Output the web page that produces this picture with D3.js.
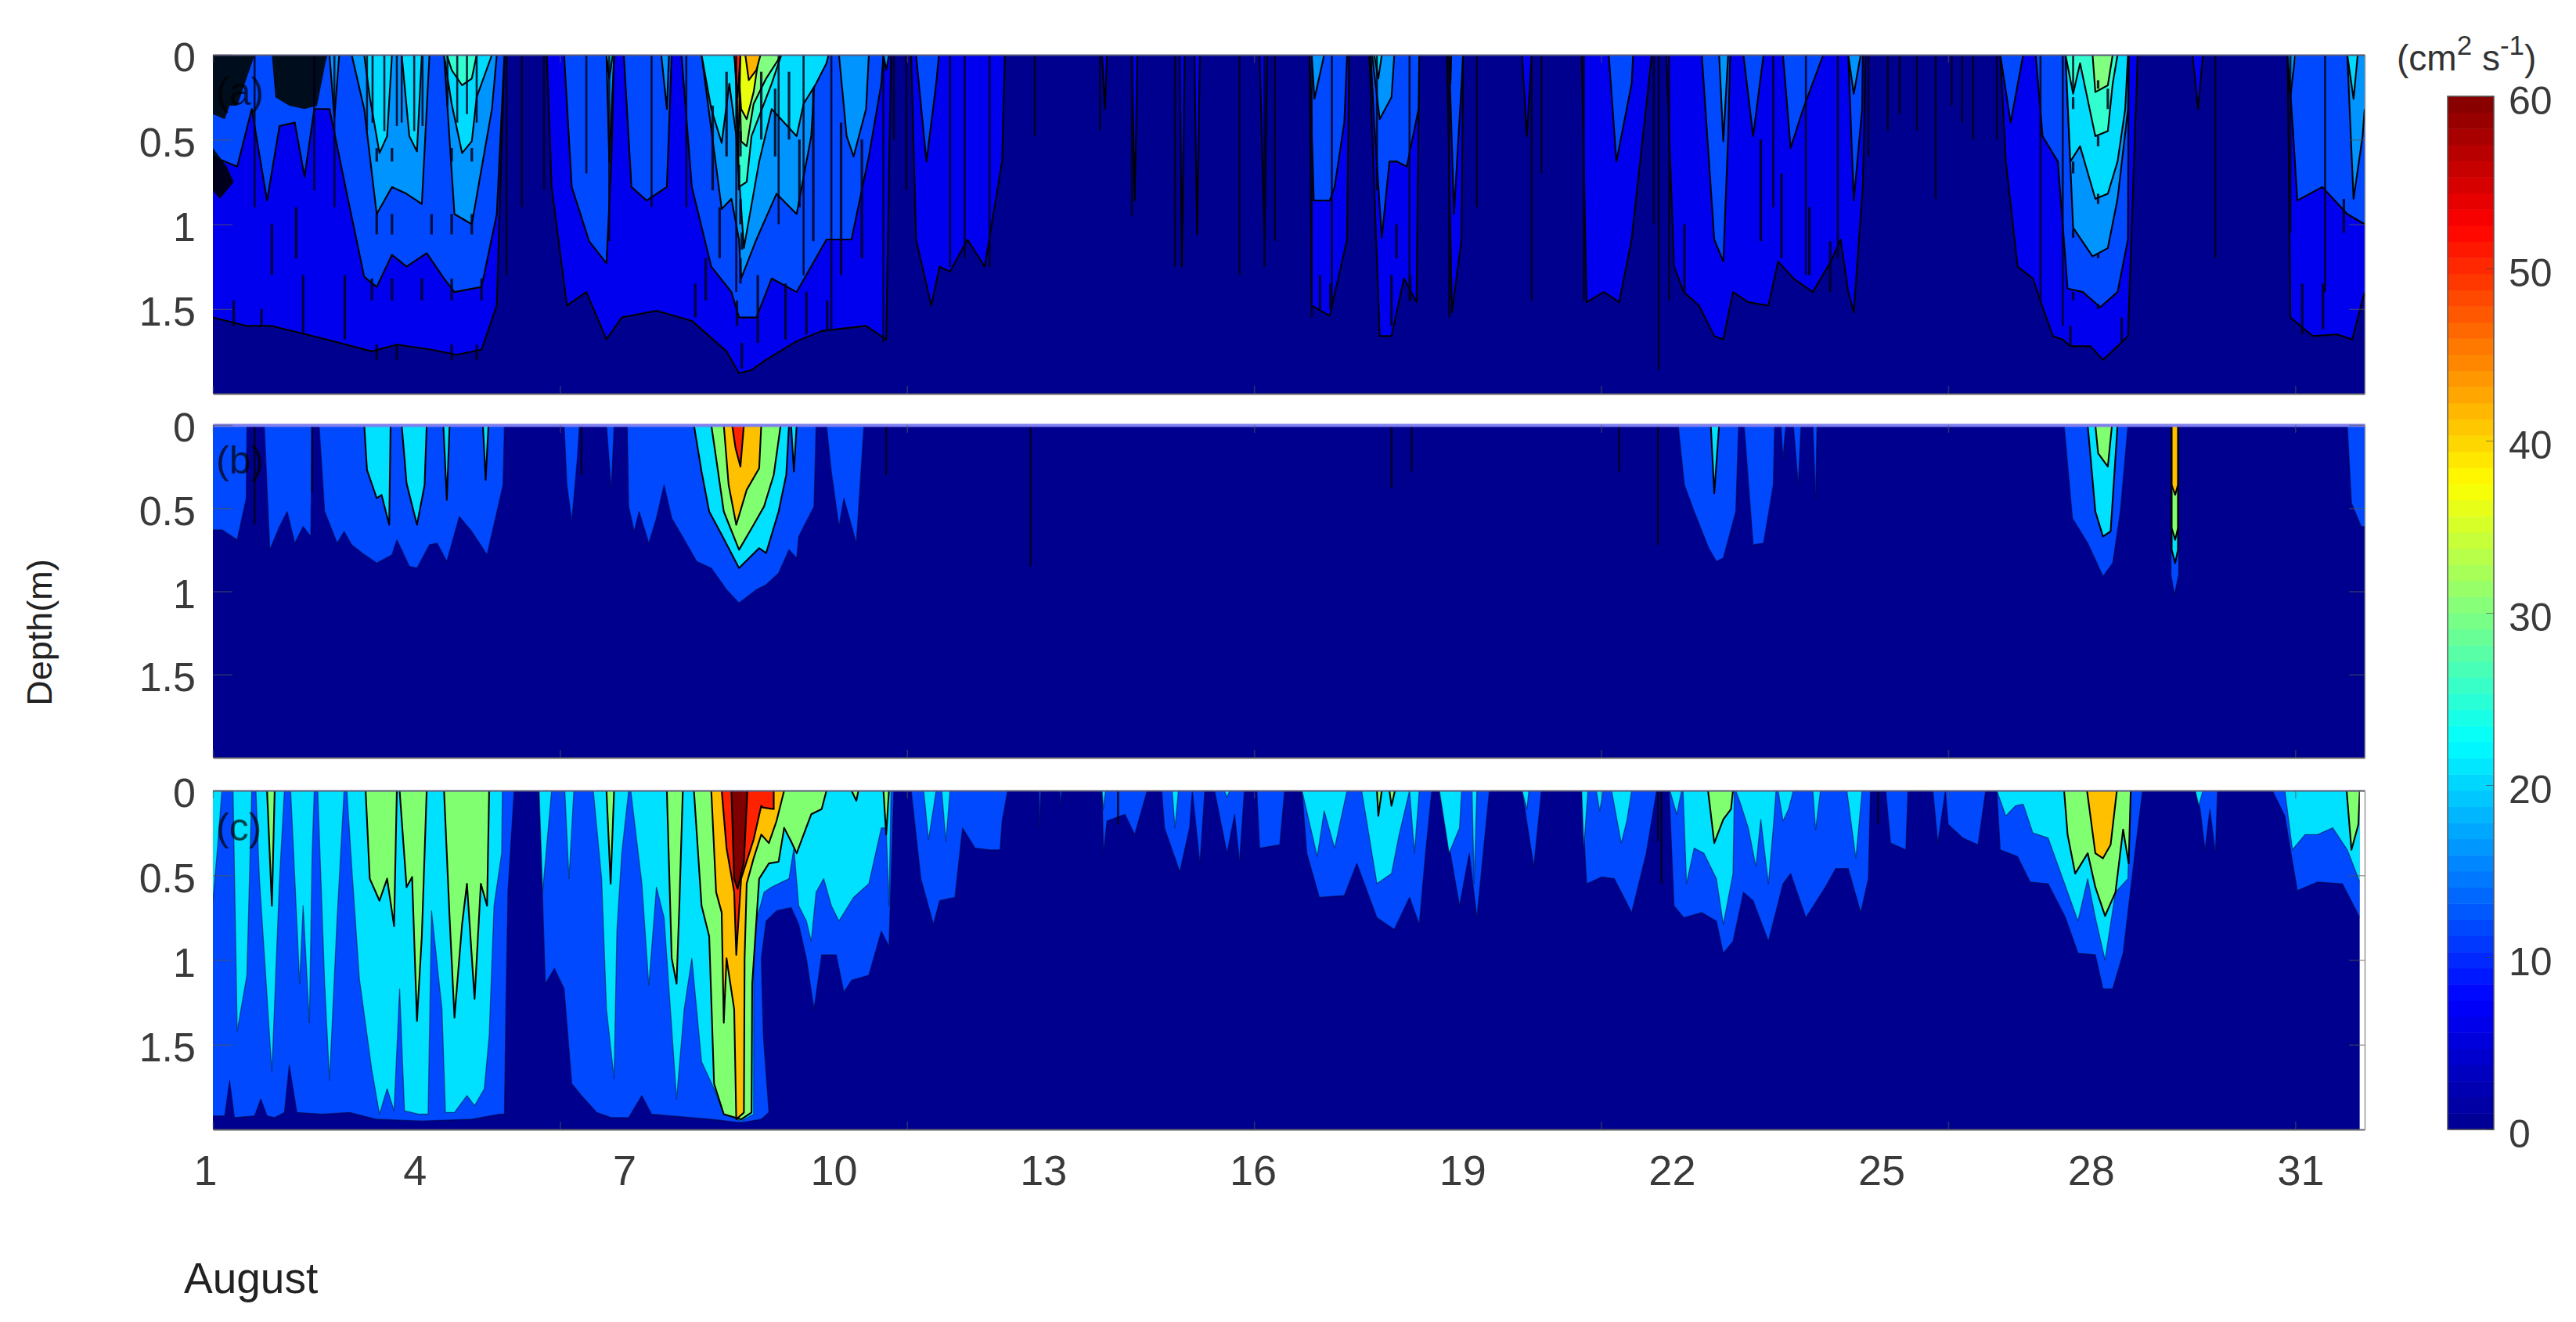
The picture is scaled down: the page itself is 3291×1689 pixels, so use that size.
<!DOCTYPE html>
<html><head><meta charset="utf-8"><script src="https://cdn.jsdelivr.net/npm/d3@7"></script>
<style>html,body{margin:0;background:#fff}svg{display:block}text{font-family:"Liberation Sans",Arial,sans-serif;fill:#3a3a3a}</style></head><body>
<script>
// Each list: [day of August, depth (m)] = how deep the value stays at or above the level.
const a5=[[1,1.55],[1.49,1.6],[1.85,1.6],[2.64,1.68],[3.29,1.75],[3.65,1.71],[4.15,1.74],[4.51,1.77],[4.87,1.74],[5.09,1.48],[5.2,0],[5.81,0],[5.88,.78],[6.1,1.48],[6.38,1.4],[6.67,1.68],[6.89,1.55],[7.39,1.51],[7.9,1.57],[8.4,1.75],[8.58,1.88],[8.76,1.86],[8.97,1.8],[9.41,1.69],[9.77,1.63],[10.41,1.6],[10.7,1.68],[10.77,0],[11.06,0],[11.13,1.09],[11.35,1.48],[11.47,1.25],[11.62,1.28],[11.87,1.09],[12.12,1.25],[12.37,.63],[12.41,0],[13.81,0],[13.85,.32],[13.88,0],[14.24,0],[14.28,.86],[14.32,0],[14.93,0],[14.96,1.25],[15,0],[15.14,0],[15.18,1.06],[15.22,0],[16.08,0],[16.15,1.09],[16.19,0],[16.8,0],[16.83,1.48],[17.09,1.54],[17.34,1.09],[17.37,0],[17.66,0],[17.81,1.66],[17.98,1.66],[18.16,1.32],[18.34,1.46],[18.38,0],[18.78,0],[18.85,1.52],[18.99,1.09],[19.01,0],[19.86,0],[19.93,.48],[20,0],[20.72,0],[20.79,1.46],[21.04,1.4],[21.26,1.46],[21.44,1.09],[21.73,0],[21.94,0],[22.05,1.25],[22.19,1.4],[22.41,1.48],[22.63,1.66],[22.76,1.68],[22.9,1.4],[23.12,1.46],[23.41,1.48],[23.55,1.22],[23.77,1.32],[24.05,1.4],[24.31,1.22],[24.45,1.09],[24.56,1.4],[24.64,1.52],[24.77,.78],[24.81,0],[26.75,0],[26.83,.63],[27,1.25],[27.22,1.32],[27.36,1.49],[27.51,1.66],[27.65,1.68],[27.76,1.72],[28.05,1.72],[28.23,1.8],[28.44,1.72],[28.59,1.66],[28.73,0],[29.52,0],[29.6,.32],[29.67,0],[30.89,0],[30.93,1.55],[31.25,1.66],[31.61,1.65],[31.82,1.68],[32,1.4]];
const a10=[[1,.6],[1.35,.66],[1.56,.32],[1.78,.86],[1.96,.42],[2.18,.4],[2.32,.72],[2.46,.32],[2.68,.32],[2.93,.82],[3.18,1.31],[3.36,1.37],[3.58,1.18],[3.79,1.25],[4.08,1.17],[4.33,1.32],[4.48,1.4],[4.87,1.37],[5.09,.94],[5.2,0],[6.06,0],[6.17,.78],[6.42,1.1],[6.67,1.23],[6.74,.63],[6.78,0],[6.92,0],[7.03,.78],[7.25,.86],[7.54,.78],[7.61,0],[7.75,0],[7.9,.78],[8.18,1.25],[8.47,1.4],[8.58,1.55],[8.83,1.55],[9.05,1.32],[9.41,1.4],[9.84,1.09],[10.2,1.09],[10.45,.6],[10.63,.17],[10.66,0],[11.13,0],[11.28,.63],[11.42,.17],[11.46,0],[16.8,0],[16.86,.86],[17.09,.86],[17.16,.78],[17.3,.4],[17.34,0],[17.68,0],[17.73,.4],[17.84,1.08],[17.95,.63],[18.06,.63],[18.2,.66],[18.37,.32],[18.38,0],[18.81,0],[18.88,.94],[18.99,.17],[19.01,0],[21.11,0],[21.22,.63],[21.44,.17],[21.46,0],[22.45,0],[22.63,1.09],[22.76,1.22],[22.83,.48],[22.86,0],[23.05,0],[23.19,.48],[23.34,0],[23.62,0],[23.73,.55],[23.91,.32],[24.2,0],[24.56,0],[24.64,.86],[24.76,.32],[24.77,0],[26.75,0],[26.9,.4],[27.08,0],[27.26,0],[27.36,.48],[27.58,.63],[27.72,1.38],[27.94,1.4],[28.19,1.49],[28.44,1.4],[28.59,1.09],[28.6,0],[30.89,0],[30.96,.4],[31.03,.86],[31.39,.78],[31.75,.94],[32,1]];
const a15=[[2.68,0],[2.75,.37],[2.82,0],[3,0],[3.18,.32],[3.36,.94],[3.58,.78],[3.79,.82],[4.01,.88],[4.12,0],[4.33,0],[4.48,.94],[4.73,1],[5.02,.32],[5.09,0],[6.67,0],[6.71,.63],[6.78,0],[7.46,0],[7.54,.32],[7.57,0],[8.04,0],[8.33,.91],[8.47,.85],[8.58,1.09],[8.61,1.32],[8.83,1.09],[9.12,.82],[9.41,.94],[9.62,.48],[9.69,0],[10.02,0],[10.13,.48],[10.23,.6],[10.41,.32],[10.45,0],[10.66,0],[10.7,.09],[10.74,0],[16.83,0],[16.87,.26],[17.01,0],[17.7,0],[17.81,.38],[17.98,.25],[18.02,0],[18.81,0],[18.83,.17],[18.84,0],[22.7,0],[22.76,.51],[22.83,0],[24.56,0],[24.64,.23],[24.74,0],[27.69,0],[27.8,1.02],[28.08,1.19],[28.3,1.14],[28.44,.85],[28.59,.32],[28.6,0],[30.89,0],[30.93,.25],[31,0],[31.75,0],[31.84,.85],[31.97,.48],[32,.32]];
const a20=[[3.18,0],[3.26,.25],[3.4,.58],[3.51,.48],[3.58,0],[3.72,0],[3.83,.48],[3.94,.57],[4.01,0],[4.33,0],[4.44,.29],[4.59,.58],[4.73,.51],[4.8,.25],[5.02,0],[6.67,0],[6.71,.14],[6.76,0],[8.04,0],[8.18,.32],[8.33,.52],[8.44,.17],[8.54,.48],[8.65,1.14],[8.87,.63],[9.05,.32],[9.41,.48],[9.51,.29],[9.69,.17],[9.84,.05],[9.87,0],[17.73,0],[17.79,.14],[17.84,0],[27.69,0],[27.76,.63],[27.9,.54],[28.12,.85],[28.3,.82],[28.44,.63],[28.55,.32],[28.59,0],[31.75,0],[31.84,.26],[31.9,0]];
const a25=[[4.37,0],[4.44,.09],[4.59,.18],[4.73,.14],[4.8,0],[8.54,0],[8.58,.78],[8.69,.75],[8.76,.48],[9.05,.17],[9.19,0],[27.69,0],[27.8,.23],[27.9,.05],[28.12,.48],[28.3,.45],[28.37,.17],[28.44,0]];
const a30=[[8.58,0],[8.61,.51],[8.69,.54],[8.79,.29],[8.97,.14],[9.19,0],[28.08,0],[28.12,.22],[28.3,.18],[28.37,0]];
const a35=[[8.56,0],[8.61,.32],[8.69,.38],[8.79,.22],[8.87,0]];
const a40=[[8.52,0],[8.57,.55],[8.6,0],[8.67,0],[8.72,.15],[8.83,.09],[8.89,0]];
const a45=[[8.51,0],[8.56,.25],[8.6,0]];
const darkA=[[1,0],[1,.35],[1.17,.38],[1.24,.3],[1.35,.3],[1.56,.05],[1.6,0],[1.85,0],[1.9,.25],[2.1,.3],[2.32,.32],[2.5,.3],[2.62,.05],[2.65,0]];
const darkA2=[[1,.55],[1.2,.66],[1.3,.75],[1.1,.85],[1,.8]];
const spikesA=[[5.23,1.3],[5.45,.9],[5.77,.8],[6.38,.7],[6.71,1.1],[7.32,.9],[7.82,.9],[8.54,1.4],[9.15,1],[9.51,1.3],[9.91,1.63],[10.66,1.7],[10.81,.5],[10.99,.8],[11.62,1.25],[11.83,1.2],[12.19,1.25],[12.84,.48],[13.78,.45],[14.24,.95],[14.86,1.25],[15.79,1.3],[16.15,1.25],[16.3,1.1],[16.83,1.55],[17.12,1.5],[17.77,.8],[18.24,1.45],[18.81,1.55],[19.21,.9],[20,1.45],[20.14,.7],[20.75,1.45],[21.83,1.86],[21.76,1],[21.98,1.45],[23.48,.9],[23.95,1.3],[24.41,1.2],[24.85,.6],[25.13,.45],[25.82,.85],[26.36,.5],[26.7,.5],[27.33,1.45],[27.65,1.6],[27.8,.2],[30.93,1.05],[31.43,1.4],[29.85,1.2],[3.22,.45],[3.3,.4],[3.47,.45],[3.65,.42],[3.72,.4],[3.9,.45],[4.02,.42],[4.38,.3],[4.52,.4],[4.66,.35],[4.8,.4],[2.75,.9],[1.6,.9],[2.46,.8],[25.3,.35],[25.55,.45],[26.05,.3],[26.2,.4]];
const notchesA=[[3.36,.55,.63],[3.58,.55,.63],[4.44,.55,.63],[4.73,.55,.63],[3.36,.94,1.06],[3.58,.94,1.06],[4.15,.94,1.06],[4.44,.94,1.06],[4.73,.94,1.06],[3.29,1.32,1.45],[3.58,1.32,1.45],[4.01,1.32,1.45],[4.44,1.32,1.45],[4.87,1.32,1.45],[3.36,1.71,1.8],[3.65,1.71,1.8],[4.44,1.71,1.8],[4.8,1.71,1.8],[8.55,.25,.4],[8.6,.45,.6],[8.58,.65,.8],[8.6,.85,1],[8.62,1.05,1.15],[8.6,1.2,1.35],[8.55,1.45,1.6],[8.62,1.7,1.85],[8.9,.1,.5],[9.1,.2,.6],[9.3,.1,.5],[9.45,.5,.9],[9.65,.2,1.1],[8.2,.3,.8],[8.4,.1,.6],[8.3,.9,1.2],[8.1,1.2,1.45],[7.95,1.35,1.55],[8.85,1.3,1.7],[9.25,1.35,1.68],[9.55,1.4,1.65],[9.85,1.45,1.62],[10.05,.4,1.3],[10.35,.5,1.2],[27.8,.25,.32],[27.8,.63,.7],[27.8,1.03,1.08],[27.8,1.4,1.45],[28.16,.15,.2],[28.16,.48,.54],[28.16,.82,.88],[28.16,1.17,1.2],[28.16,1.47,1.5],[28.3,.2,.32],[27.76,1.6,1.72],[28.5,1.55,1.7],[16.95,1.3,1.5],[17.1,1.35,1.5],[17.98,1.3,1.6],[18.05,1,1.2],[18.25,1.3,1.45],[22.2,1,1.4],[23.3,.5,1.1],[23.6,.7,1.2],[24,.9,1.3],[24.3,1.1,1.4],[31.1,1.35,1.65],[31.4,1.35,1.62],[31.7,.85,1.05],[1.3,1.45,1.6],[1.7,1.5,1.6],[2.3,1.3,1.65],[2.9,1.3,1.68],[2.2,.9,1.2],[1.85,1,1.3]];

const b10=[[1,.63],[1.13,.63],[1.35,.69],[1.48,.44],[1.49,0],[1.74,0],[1.82,.75],[1.96,.61],[2.07,.52],[2.18,.71],[2.3,.61],[2.41,.67],[2.43,0],[2.53,0],[2.61,.52],[2.79,.71],[2.89,.64],[3,.72],[3.15,.77],[3.36,.83],[3.58,.78],[3.65,.69],[3.83,.85],[3.94,.86],[4.12,.72],[4.23,.71],[4.37,.82],[4.55,.55],[4.73,.64],[4.95,.78],[5.18,.36],[5.2,0],[6.06,0],[6.1,.36],[6.17,.58],[6.25,.2],[6.28,0],[6.67,0],[6.74,.39],[6.78,0],[6.97,0],[6.99,.49],[7.07,.64],[7.14,.52],[7.28,.71],[7.39,.56],[7.5,.36],[7.61,.56],[7.75,.66],[7.97,.82],[8.18,.86],[8.4,.99],[8.58,1.07],[8.83,.99],[8.97,.96],[9.15,.89],[9.3,.75],[9.41,.8],[9.44,.67],[9.66,.49],[9.69,0],[9.84,0],[9.91,.28],[10.02,.61],[10.09,.44],[10.27,.71],[10.38,0],[22.11,0],[22.2,.36],[22.34,.52],[22.55,.74],[22.66,.82],[22.76,.8],[22.94,.52],[22.98,0],[23.06,0],[23.19,.72],[23.34,.71],[23.48,.36],[23.5,0],[23.59,0],[23.62,.2],[23.66,0],[23.77,0],[23.84,.36],[23.88,0],[24.05,0],[24.09,.44],[24.11,0],[27.67,0],[27.79,.56],[28.01,.71],[28.23,.91],[28.37,.83],[28.48,.52],[28.59,0],[29.21,0],[29.21,.9],[29.26,1.02],[29.32,.9],[29.32,0],[31.75,0],[31.81,.47],[31.95,.61],[32,.61]];
const b20=[[3.18,0],[3.22,.27],[3.36,.44],[3.43,.42],[3.54,.6],[3.56,0],[3.72,0],[3.79,.35],[3.94,.6],[4.05,.36],[4.08,0],[4.32,0],[4.37,.45],[4.41,0],[4.89,0],[4.93,.33],[4.97,0],[7.93,0],[8.04,.28],[8.15,.52],[8.33,.66],[8.58,.86],[8.87,.74],[8.97,.77],[9.15,.52],[9.26,.3],[9.3,0],[9.33,0],[9.37,.28],[9.41,0],[22.58,0],[22.63,.41],[22.7,0],[28.01,0],[28.12,.52],[28.23,.67],[28.34,.64],[28.44,0],[29.22,0],[29.22,.75],[29.27,.83],[29.31,.75],[29.31,0]];
const b30=[[8.18,0],[8.25,.2],[8.36,.52],[8.58,.75],[8.79,.6],[8.94,.49],[9.08,.3],[9.18,0],[28.12,0],[28.16,.17],[28.3,.25],[28.36,0],[29.22,0],[29.22,.62],[29.27,.69],[29.31,.62],[29.31,0]];
const b40=[[8.36,0],[8.43,.36],[8.54,.6],[8.69,.39],[8.87,.26],[8.9,0],[29.22,0],[29.22,.36],[29.27,.42],[29.31,.36],[29.31,0]];
const b50=[[8.48,0],[8.53,.14],[8.6,.25],[8.65,0]];
const spikesB=[[12.78,.85],[17.98,.38],[18.27,.28],[21.26,.28],[21.82,.72],[10.7,.3],[6.31,.3],[2.43,.4],[1.6,.6]];

const c10=[[1,1.92],[1.17,1.92],[1.24,1.71],[1.31,1.93],[1.6,1.92],[1.69,1.82],[1.78,1.92],[1.89,1.93],[2.03,1.9],[2.1,1.62],[2.21,1.9],[2.57,1.91],[2.97,1.9],[3.36,1.94],[4.01,1.95],[4.73,1.94],[5.12,1.91],[5.2,1.91],[5.22,1.3],[5.25,.6],[5.34,0],[5.7,0],[5.74,.52],[5.79,1.14],[5.92,1.05],[6.06,1.17],[6.17,1.73],[6.31,1.8],[6.53,1.9],[6.74,1.93],[6.99,1.93],[7.18,1.8],[7.32,1.91],[7.61,1.92],[8.18,1.94],[8.61,1.96],[8.9,1.94],[9.01,1.9],[8.93,1.45],[8.9,.99],[8.97,.77],[9.12,.71],[9.33,.69],[9.44,.79],[9.55,.99],[9.66,1.29],[9.77,.97],[9.98,.97],[10.09,1.19],[10.2,1.12],[10.45,1.09],[10.63,.83],[10.74,.92],[10.81,0],[11.06,0],[11.2,.52],[11.38,.79],[11.47,.65],[11.69,.63],[11.8,.22],[11.98,.34],[12.2,.35],[12.34,.35],[12.37,.18],[12.45,0],[12.9,0],[12.91,.22],[12.93,0],[13.2,0],[13.21,.09],[13.23,0],[13.81,0],[13.83,.37],[13.88,.18],[14.14,.14],[14.28,.26],[14.46,0],[14.67,0],[14.71,.22],[14.93,.48],[15.07,.22],[15.11,0],[15.22,.43],[15.29,0],[15.43,0],[15.61,.37],[15.72,.14],[15.79,.42],[15.86,0],[16.04,0],[16.08,.34],[16.37,.32],[16.44,0],[16.69,0],[16.76,.37],[16.94,.63],[17.3,.62],[17.48,.43],[17.77,.75],[18.02,.82],[18.24,.63],[18.38,.79],[18.47,.37],[18.56,0],[18.67,0],[18.96,.68],[19.1,.37],[19.21,.75],[19.39,0],[19.86,0],[20.03,.45],[20.14,0],[20.72,0],[20.79,.55],[21.01,.51],[21.19,.52],[21.44,.72],[21.65,.37],[21.8,0],[21.98,0],[22.05,.68],[22.19,.75],[22.45,.72],[22.66,.77],[22.76,.96],[22.9,.89],[23.05,.6],[23.19,.65],[23.41,.89],[23.62,.55],[23.73,.49],[23.95,.75],[24.23,.57],[24.38,.46],[24.56,.46],[24.74,.72],[24.85,.52],[24.88,0],[25.1,0],[25.17,.31],[25.39,.35],[25.42,0],[25.78,0],[25.85,.31],[25.96,0],[26,.2],[26.21,.28],[26.43,.32],[26.54,0],[26.7,0],[26.75,.35],[27,.39],[27.18,.54],[27.44,.55],[27.69,.75],[27.87,.96],[28.12,.97],[28.23,1.17],[28.37,1.17],[28.52,.96],[28.69,.37],[28.8,0],[29.56,0],[29.63,.11],[29.7,.35],[29.77,.11],[29.85,.37],[29.88,0],[30.67,0],[30.85,.15],[31.03,.59],[31.32,.54],[31.68,.55],[31.93,.75]];
const c20=[[1,.65],[1.06,.37],[1.13,0],[1.29,0],[1.35,1.42],[1.49,1.09],[1.56,0],[1.62,0],[1.67,.52],[1.85,1.66],[1.96,.52],[2.03,0],[2.12,0],[2.18,.52],[2.25,1.14],[2.3,.68],[2.39,1.37],[2.43,.37],[2.46,0],[2.51,0],[2.61,1.14],[2.68,1.71],[2.79,.75],[2.89,0],[2.93,0],[3,.45],[3.11,1.11],[3.15,1.23],[3.29,1.65],[3.4,1.91],[3.51,1.76],[3.61,1.89],[3.69,1.17],[3.76,1.89],[3.97,1.91],[4.1,1.91],[4.15,.71],[4.3,1.29],[4.35,1.9],[4.48,1.9],[4.66,1.8],[4.77,1.86],[4.91,1.76],[4.98,1.45],[5.05,.68],[5.16,.37],[5.17,0],[5.7,0],[5.75,.6],[5.88,0],[6.07,0],[6.13,.52],[6.2,0],[6.48,0],[6.6,.52],[6.67,1.29],[6.78,1.7],[6.82,.83],[6.89,.37],[6.99,0],[7.02,0],[7.18,.55],[7.28,1.15],[7.39,.57],[7.5,.75],[7.68,1.82],[7.79,1.29],[7.9,.99],[8.04,1.6],[8.22,1.76],[8.36,1.91],[8.61,1.95],[8.79,1.91],[8.79,.83],[8.94,.6],[9.05,.57],[9.3,.52],[9.37,.34],[9.44,.68],[9.55,.77],[9.62,.89],[9.69,.6],[9.8,.52],[9.91,.68],[10.02,.77],[10.23,.63],[10.45,.55],[10.63,.22],[10.7,.22],[10.74,.68],[10.77,0],[11.24,0],[11.31,.29],[11.42,0],[11.5,0],[11.56,.3],[11.62,0],[13.81,0],[13.83,.11],[13.86,0],[14.82,0],[14.86,.22],[14.91,0],[15.57,0],[15.61,.04],[15.65,0],[16.69,0],[16.91,.39],[17.01,.12],[17.16,.34],[17.34,0],[17.55,0],[17.77,.55],[17.98,.49],[18.09,.26],[18.24,0],[18.31,.37],[18.38,0],[18.67,0],[18.81,.37],[18.96,.22],[18.99,0],[19.14,0],[19.17,.55],[19.21,0],[19.86,0],[19.93,.11],[19.96,0],[20.72,0],[20.75,.34],[20.81,0],[20.93,0],[20.98,.12],[21.03,0],[21.15,0],[21.29,.31],[21.37,.18],[21.44,0],[21.99,0],[22.09,.14],[22.16,0],[22.18,0],[22.23,.55],[22.34,.34],[22.48,.37],[22.66,.52],[22.76,.79],[22.9,.49],[22.92,0],[22.94,0],[23.01,.08],[23.12,.22],[23.23,.45],[23.3,.17],[23.41,.55],[23.48,.22],[23.52,0],[23.55,0],[23.62,.18],[23.7,.11],[23.77,0],[24.05,0],[24.09,.23],[24.16,0],[24.54,0],[24.67,.4],[24.76,0],[26.7,0],[26.83,.15],[26.97,.09],[27.08,.08],[27.22,.25],[27.44,.28],[27.65,.52],[27.87,.77],[28.01,.52],[28.12,.75],[28.26,1],[28.41,.6],[28.59,.52],[28.62,0],[29.56,0],[29.61,.09],[29.67,0],[30.85,0],[30.96,.35],[31.14,.26],[31.32,.26],[31.54,.22],[31.75,.35],[31.93,.54]];
const c30=[[1.78,0],[1.85,.68],[1.89,0],[3.2,0],[3.26,.52],[3.4,.65],[3.51,.52],[3.61,.8],[3.65,0],[3.69,0],[3.79,.57],[3.87,.51],[3.94,1.36],[4.01,.86],[4.08,0],[4.33,0],[4.41,.75],[4.48,1.34],[4.59,.79],[4.66,.55],[4.77,1.23],[4.86,.55],[4.95,.68],[4.98,0],[6.67,0],[6.73,.55],[6.78,0],[7.54,0],[7.61,.99],[7.68,1.14],[7.72,.68],[7.77,0],[7.93,0],[8.04,.68],[8.15,.86],[8.22,1.73],[8.36,1.91],[8.61,1.94],[8.76,1.9],[8.77,1.14],[8.87,.52],[9.01,.43],[9.15,.42],[9.23,.22],[9.33,.3],[9.41,.37],[9.51,.26],[9.62,.14],[9.77,.11],[9.84,0],[10.2,0],[10.27,.06],[10.3,0],[10.66,0],[10.7,.26],[10.74,0],[17.77,0],[17.79,.15],[17.84,0],[17.95,0],[17.98,.09],[18.03,0],[22.54,0],[22.63,.31],[22.76,.17],[22.87,.11],[22.9,0],[27.67,0],[27.72,.26],[27.83,.49],[28.01,.37],[28.12,.57],[28.26,.74],[28.41,.6],[28.52,.23],[28.6,.43],[28.63,0],[31.74,0],[31.81,.35],[31.91,.2],[31.93,0]];
const c40=[[8.18,0],[8.25,.6],[8.33,.72],[8.36,1.37],[8.4,.99],[8.51,1.29],[8.54,1.94],[8.65,1.9],[8.66,.99],[8.69,.55],[8.79,.4],[8.9,.26],[9.01,.31],[9.12,.18],[9.23,0],[28,0],[28.12,.37],[28.23,.4],[28.34,.32],[28.43,0]];
const c50=[[8.33,0],[8.4,.34],[8.51,.6],[8.54,.97],[8.61,.52],[8.79,.29],[8.9,.09],[8.92,.1],[9.08,.11],[9.08,0]];
const c60=[[8.47,0],[8.51,.52],[8.56,.58],[8.65,.42],[8.7,0]];
const spikesC=[[21.87,.55],[21.82,.3],[24.99,.2],[14.04,.2]];

const dayTicks=[1,6,11,16,21,26,31];
const dayLabels=[1,4,7,10,13,16,19,22,25,28,31];
const depthTicks=[0,.5,1,1.5];
const colorTicks=[0,10,20,30,40,50,60];

const W=3291,H=1689,xL=272,xR=3021;
const navy="#00008f";
const fineFills=["#0000ee","#0048ff","#0094ff","#00dcff","#30ffd0","#80ff80","#e8ff10","#ffb400","#ff2000"];
const coarseFills=["#0048ff","#00e0ff","#80ff70","#ffc000","#ff2000","#800000"];
const panels=[
 {name:"(a)",top:70,bottom:503,end:32,bands:[a5,a10,a15,a20,a25,a30,a35,a40,a45],fills:fineFills,spikes:spikesA,notches:notchesA,dark:[darkA,darkA2],lineFrom:0,labelY:117},
 {name:"(b)",top:543,bottom:968,end:32,bands:[b10,b20,b30,b40,b50],fills:coarseFills,spikes:spikesB,notches:[],dark:[],lineFrom:1,labelY:588},
 {name:"(c)",top:1010,bottom:1443,end:31.93,bands:[c10,c20,c30,c40,c50,c60],fills:coarseFills,spikes:spikesC,notches:[],dark:[],lineFrom:2,labelY:1057}
];
const x=d3.scaleLinear().domain([1,32]).range([xL,xR]);
const svg=d3.select("body").append("svg").attr("width",W).attr("height",H).attr("viewBox",[0,0,W,H]);
const defs=svg.append("defs");
defs.append("filter").attr("id","soft").attr("x","-1%").attr("y","-1%").attr("width","102%").attr("height","102%").append("feGaussianBlur").attr("stdDeviation",.7);

panels.forEach((p,i)=>{
  const y=d3.scaleLinear().domain([0,2]).range([p.top,p.bottom]);
  defs.append("clipPath").attr("id","clip"+i).append("rect").attr("x",x(1)).attr("y",p.top).attr("width",x(p.end)-x(1)).attr("height",p.bottom-p.top);
  const line=d3.line().x(d=>x(d[0])).y(d=>y(d[1]));
  const g=svg.append("g").attr("clip-path",`url(#clip${i})`).append("g").attr("filter","url(#soft)");
  g.append("rect").attr("x",x(1)).attr("y",p.top).attr("width",x(p.end)-x(1)).attr("height",p.bottom-p.top).attr("fill",navy);
  p.bands.forEach((band,j)=>{
    const first=band[0],last=band[band.length-1];
    const ring=[[first[0],0],...band,[last[0],0]];
    g.append("path").attr("d",line(ring)+"Z").attr("fill",p.fills[j]);
    const strong=j>=p.lineFrom;
    g.append("path").attr("d",line(band)).attr("fill","none")
      .attr("stroke",strong?"#000":"#00002a").attr("stroke-opacity",strong?1:.5)
      .attr("stroke-width",strong?2.1:1.3).attr("stroke-linejoin","round");
  });
  p.dark.forEach(dk=>{
    g.append("path").attr("d",line(dk)+"Z").attr("fill","#020208").attr("fill-opacity",.92);
  });
  g.selectAll("line.spike").data(p.spikes).join("line").attr("class","spike")
    .attr("x1",d=>x(d[0])).attr("x2",d=>x(d[0])).attr("y1",y(0)).attr("y2",d=>y(d[1]))
    .attr("stroke","#00001c").attr("stroke-width",2.6).attr("stroke-opacity",.85);
  g.selectAll("line.notch").data(p.notches).join("line").attr("class","notch")
    .attr("x1",d=>x(d[0])).attr("x2",d=>x(d[0])).attr("y1",d=>y(d[1])).attr("y2",d=>y(d[2]))
    .attr("stroke","#00001c").attr("stroke-width",3.2).attr("stroke-opacity",.85);

  const tickStroke=s=>s.selectAll("line").attr("stroke","#555").attr("stroke-opacity",.55).attr("stroke-width",1.5);
  const bottom=d3.axisBottom(x).tickValues(dayTicks).tickSizeInner(-10).tickSizeOuter(0).tickFormat("");
  svg.append("g").attr("transform",`translate(0,${p.bottom})`).call(bottom).call(tickStroke).select(".domain").attr("stroke","#666").attr("stroke-width",2);
  const topAxis=d3.axisTop(x).tickValues(dayTicks).tickSizeInner(-10).tickSizeOuter(0).tickFormat("");
  svg.append("g").attr("transform",`translate(0,${p.top})`).call(topAxis).call(tickStroke).select(".domain").attr("stroke",i===1?"#7f80ee":"#5a5a7a").attr("stroke-width",i===1?4:2);
  const right=d3.axisRight(y).tickValues(depthTicks).tickSizeInner(-20).tickSizeOuter(0).tickFormat("");
  svg.append("g").attr("transform",`translate(${xR},0)`).call(right).call(tickStroke).select(".domain").attr("stroke","#999").attr("stroke-width",1.5);
  const left=d3.axisLeft(y).tickValues(depthTicks).tickSizeInner(-25).tickSizeOuter(0).tickPadding(22).tickFormat(d=>d===0?"0":String(d));
  const la=svg.append("g").attr("transform",`translate(${xL},0)`).call(left).call(tickStroke);
  la.select(".domain").attr("stroke","none");
  la.selectAll("text").attr("font-size",52).attr("dy","0.4em").style("fill","#3a3a3a");
  svg.append("text").attr("x",xL+4).attr("y",p.labelY+17).attr("font-size",50).style("fill","#000").style("fill-opacity",.7).text(p.name);
});

// Day labels sit on their own slightly wider spacing in the original.
const labelX=d3.scaleLinear().domain([1,31]).range([262,2939]);
const xa=d3.axisBottom(labelX).tickValues(dayLabels).tickSize(0).tickPadding(33).tickFormat(d3.format("d"));
const xg=svg.append("g").attr("transform","translate(0,1443)").call(xa);
xg.select(".domain").remove();
xg.selectAll("text").attr("font-size",54).style("fill","#3a3a3a");

svg.append("text").attr("x",235).attr("y",1652).attr("font-size",55).style("fill","#222").text("August");
svg.append("text").attr("transform","translate(66,808) rotate(-90)").attr("text-anchor","middle").attr("font-size",45).style("fill","#222").text("Depth(m)");

// colour bar
const jet=d3.scaleLinear().domain([0,7.5,22.5,37.5,52.5,60]).range(["#00008f","#0000ff","#00ffff","#ffff00","#ff0000","#800000"]);
const cy=d3.scaleLinear().domain([0,60]).range([1443,123]);
const steps=d3.range(64);
svg.append("g").selectAll("rect").data(steps).join("rect")
  .attr("x",3127).attr("width",59)
  .attr("y",d=>cy((d+1)*60/64)).attr("height",d=>cy(d*60/64)-cy((d+1)*60/64)+.5)
  .attr("fill",d=>jet((d+.5)*60/64));
svg.append("rect").attr("x",3127).attr("y",123).attr("width",59).attr("height",1320).attr("fill","none").attr("stroke","#555").attr("stroke-width",1.5);
const ca=d3.axisRight(cy).tickValues(colorTicks).tickSizeInner(-10).tickSizeOuter(0).tickPadding(19);
const cg=svg.append("g").attr("transform","translate(3186,0)").call(ca);
cg.select(".domain").remove();
cg.selectAll("line").attr("stroke","#444").attr("stroke-opacity",.6);
cg.selectAll("text").attr("font-size",50).attr("dy","0.44em").style("fill","#3a3a3a");

const t=svg.append("text").attr("x",3062).attr("y",90).attr("font-size",46).style("fill","#333");
t.append("tspan").text("(cm");
t.append("tspan").attr("dy",-20).attr("font-size",35).text("2");
t.append("tspan").attr("dy",20).text(" s");
t.append("tspan").attr("dy",-20).attr("font-size",35).text("-1");
t.append("tspan").attr("dy",20).text(")");
</script></body></html>
